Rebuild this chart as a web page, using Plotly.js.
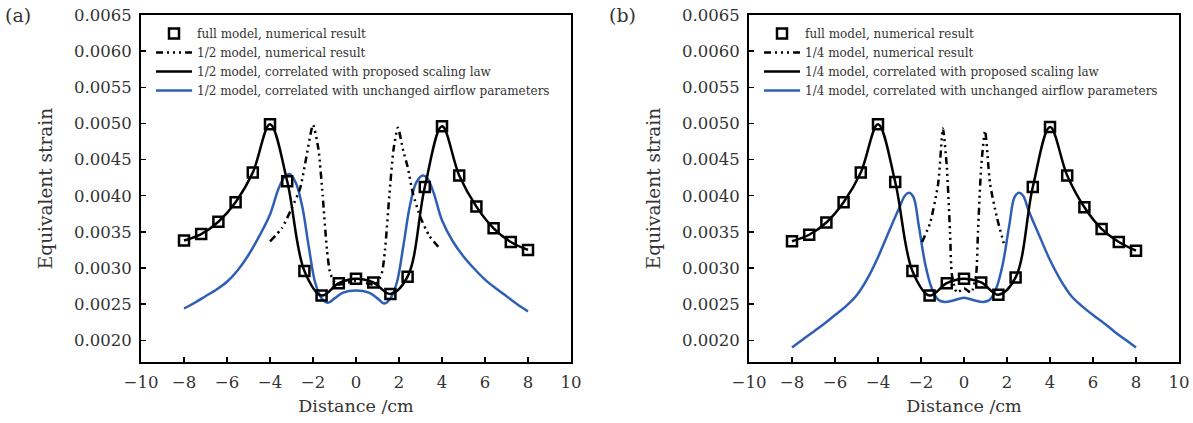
<!DOCTYPE html>
<html>
<head>
<meta charset="utf-8">
<script src="https://cdn.plot.ly/plotly-3.0.1.min.js"></script>
<style>html,body{margin:0;padding:0;background:#fff;}#chart{width:1193px;height:423px;}</style>
</head>
<body>
<div id="chart"></div>
<script>
// ---------- data ----------
const xFull = [-8, -7.2, -6.4, -5.6, -4.8, -4, -3.2, -2.4, -1.6, -0.8, 0, 0.8, 1.6, 2.4, 3.2, 4, 4.8, 5.6, 6.4, 7.2, 8];
const yFullA = [0.00338, 0.00347, 0.00364, 0.00391, 0.00432, 0.00499, 0.00420, 0.00296, 0.00262, 0.00279, 0.00285, 0.00280, 0.00264, 0.00288, 0.00412, 0.00496, 0.00428, 0.00385, 0.00355, 0.00336, 0.00325];
const yFullB = [0.00337, 0.00346, 0.00363, 0.00391, 0.00432, 0.00499, 0.00419, 0.00296, 0.00262, 0.00279, 0.00285, 0.00280, 0.00263, 0.00287, 0.00412, 0.00495, 0.00428, 0.00384, 0.00354, 0.00336, 0.00324];

const xScaledA = [-8, -7.2, -6.4, -5.6, -4.8, -4, -3.2, -2.4, -1.6, -0.8, 0, 0.8, 1.6, 2.4, 3.2, 4, 4.8, 5.6, 6.4, 7.2, 8];
const yScaledA = [0.00338, 0.00347, 0.00364, 0.00391, 0.00432, 0.00499, 0.00420, 0.00296, 0.00262, 0.00279, 0.00285, 0.00280, 0.00264, 0.00288, 0.00412, 0.00496, 0.00428, 0.00385, 0.00355, 0.00336, 0.00325];
const xScaledB = [-8, -7.2, -6.4, -5.6, -4.8, -4, -3.2, -2.4, -1.6, -0.8, 0, 0.8, 1.6, 2.4, 3.2, 4, 4.8, 5.6, 6.4, 7.2, 8];
const yScaledB = [0.00337, 0.00346, 0.00363, 0.00391, 0.00432, 0.00499, 0.00419, 0.00296, 0.00262, 0.00279, 0.00285, 0.00280, 0.00263, 0.00287, 0.00412, 0.00495, 0.00428, 0.00384, 0.00354, 0.00336, 0.00324];

const xHalf = [-4.0, -3.45, -3.0, -2.6, -2.3, -2.0, -1.75, -1.55, -1.35, -1.2, -0.9, -0.5, 0, 0.5, 0.9, 1.2, 1.35, 1.55, 1.75, 1.95, 2.2, 2.4, 2.65, 3.0, 3.4, 3.9];
const yHalf = [0.00337, 0.00355, 0.00382, 0.00410, 0.00455, 0.00498, 0.00465, 0.00400, 0.00325, 0.00293, 0.00277, 0.00279, 0.00282, 0.00279, 0.00277, 0.00293, 0.00325, 0.00400, 0.00465, 0.00494, 0.00462, 0.00440, 0.00403, 0.00370, 0.00345, 0.00327];

const xQuarter = [-1.95, -1.58, -1.2, -0.98, -0.8, -0.65, -0.56, -0.33, 0, 0.33, 0.56, 0.65, 0.8, 0.98, 1.21, 1.53, 1.9];
const yQuarter = [0.00336, 0.00362, 0.00417, 0.00493, 0.00440, 0.00350, 0.00290, 0.00266, 0.00272, 0.00266, 0.00290, 0.00350, 0.00440, 0.00490, 0.00417, 0.00370, 0.00329];

const xBlueA = [-8, -7.5, -7, -6.5, -6, -5.5, -5, -4.5, -4, -3.6, -3.3, -3.1, -2.8, -2.5, -2.2, -1.9, -1.6, -1.3, -1.0, -0.6, 0, 0.6, 1.0, 1.3, 1.6, 1.9, 2.2, 2.5, 2.8, 3.1, 3.3, 3.6, 4, 4.5, 5, 5.5, 6, 6.5, 7, 7.5, 8];
const yBlueA = [0.00244, 0.00252, 0.00261, 0.00270, 0.00281, 0.00297, 0.00318, 0.00344, 0.00374, 0.00410, 0.00427, 0.00430, 0.00418, 0.00385, 0.00330, 0.00280, 0.00258, 0.00252, 0.00258, 0.00266, 0.00269, 0.00266, 0.00258, 0.00251, 0.00258, 0.00280, 0.00330, 0.00385, 0.00418, 0.00428, 0.00425, 0.00405, 0.00366, 0.00337, 0.00316, 0.00299, 0.00284, 0.00272, 0.00261, 0.00250, 0.00240];

const xBlueB = [-8, -7.5, -7, -6.5, -6, -5.5, -5, -4.5, -4, -3.5, -3, -2.75, -2.55, -2.35, -2.1, -1.8, -1.5, -1.2, -0.9, -0.5, 0, 0.5, 0.9, 1.2, 1.5, 1.8, 2.1, 2.35, 2.55, 2.75, 3, 3.5, 4, 4.5, 5, 5.5, 6, 6.5, 7, 7.5, 8];
const yBlueB = [0.00190, 0.00201, 0.00212, 0.00223, 0.00235, 0.00247, 0.00262, 0.00285, 0.00315, 0.00350, 0.00384, 0.00400, 0.00404, 0.00398, 0.00358, 0.00305, 0.00272, 0.00256, 0.00253, 0.00255, 0.00259, 0.00255, 0.00253, 0.00256, 0.00272, 0.00305, 0.00358, 0.00398, 0.00404, 0.00400, 0.00380, 0.00345, 0.00311, 0.00283, 0.00261, 0.00247, 0.00235, 0.00224, 0.00212, 0.00201, 0.00190];

const namesA = ["full model, numerical result", "1/2 model, numerical result", "1/2 model, correlated with proposed scaling law", "1/2 model, correlated with unchanged airflow parameters"];
const namesB = ["full model, numerical result", "1/4 model, numerical result", "1/4 model, correlated with proposed scaling law", "1/4 model, correlated with unchanged airflow parameters"];
const panelLabels = ["(a)", "(b)"];
const xTitle = "Distance /cm";
const yTitle = "Equivalent strain";

// ---------- styling ----------
const FONT = "DejaVu Serif";
const TXT = "#333";
const BLUE = "#2f5fb4";
const DASHDOT = "7px,4px,2px,4px,2px,4px,2px,4px";
const W = 1193, H = 423;

function panelTraces(xa, ya, leg, names, xF, yF, xS, yS, xN, yN, xB, yB) {
  return [
    {x: xB, y: yB, xaxis: xa, yaxis: ya, legend: leg, name: names[3], legendrank: 4, mode: "lines",
     line: {color: BLUE, width: 2.5, shape: "spline", smoothing: 1}},
    {x: xN, y: yN, xaxis: xa, yaxis: ya, legend: leg, name: names[1], legendrank: 2, mode: "lines",
     line: {color: "#000", width: 2.5, dash: DASHDOT, shape: "spline", smoothing: 0.6}},
    {x: xS, y: yS, xaxis: xa, yaxis: ya, legend: leg, name: names[2], legendrank: 3, mode: "lines",
     line: {color: "#000", width: 2.5, shape: "spline", smoothing: 1}},
    {x: xF, y: yF, xaxis: xa, yaxis: ya, legend: leg, name: names[0], legendrank: 1, mode: "markers",
     marker: {symbol: "square-open", size: 10, color: "#000", line: {color: "#000", width: 2.5}}}
  ];
}

const data = [].concat(
  panelTraces("x", "y", "legend", namesA, xFull, yFullA, xScaledA, yScaledA, xHalf, yHalf, xBlueA, yBlueA),
  panelTraces("x2", "y2", "legend2", namesB, xFull, yFullB, xScaledB, yScaledB, xQuarter, yQuarter, xBlueB, yBlueB)
);

function xAxis(domain, anchor) {
  return {domain: domain, anchor: anchor, range: [-10, 10], dtick: 2, tick0: 0,
    ticks: "inside", ticklen: 5, tickwidth: 1.5, tickcolor: "#000",
    showline: true, linewidth: 2, linecolor: "#000", mirror: true,
    showgrid: false, zeroline: false, automargin: false, ticklabelstandoff: 4,
    tickfont: {family: FONT, size: 16.5, color: TXT},
    title: {text: xTitle, font: {family: FONT, size: 17.5, color: TXT}, standoff: 9}};
}
function yAxis(domain, anchor) {
  return {domain: domain, anchor: anchor, range: [0.0017, 0.0065], dtick: 0.0005, tick0: 0.002,
    tickformat: ".4f", ticks: "inside", ticklen: 5, tickwidth: 1.5, tickcolor: "#000",
    showline: true, linewidth: 2, linecolor: "#000", mirror: true,
    showgrid: false, zeroline: false, automargin: false, ticklabelstandoff: 4,
    tickfont: {family: FONT, size: 16.5, color: TXT},
    title: {text: yTitle, font: {family: FONT, size: 18.5, color: TXT}, standoff: 16}};
}

const yDom = [1 - 362 / H, 1 - 15 / H];
const legendCommon = {xanchor: "left", yanchor: "top", bgcolor: "rgba(0,0,0,0)", borderwidth: 0,
  font: {family: FONT, size: 12, color: TXT}, traceorder: "normal", itemwidth: 36};

const layout = {
  width: W, height: H,
  margin: {l: 0, r: 0, t: 0, b: 0},
  paper_bgcolor: "#fff", plot_bgcolor: "#fff",
  showlegend: true,
  xaxis: xAxis([141 / W, 571 / W], "y"),
  yaxis: yAxis(yDom, "x"),
  xaxis2: xAxis([749 / W, 1179 / W], "y2"),
  yaxis2: yAxis(yDom, "x2"),
  legend: Object.assign({x: 151 / W, y: 1 - 19 / H}, legendCommon),
  legend2: Object.assign({x: 759 / W, y: 1 - 19 / H}, legendCommon),
  annotations: [
    {text: panelLabels[0], x: 18 / W, y: 1 - 15 / H, xref: "paper", yref: "paper", showarrow: false,
     xanchor: "center", yanchor: "middle", font: {family: FONT, size: 19, color: TXT}},
    {text: panelLabels[1], x: 622 / W, y: 1 - 15 / H, xref: "paper", yref: "paper", showarrow: false,
     xanchor: "center", yanchor: "middle", font: {family: FONT, size: 19, color: TXT}}
  ]
};

Plotly.newPlot("chart", data, layout, {displayModeBar: false, staticPlot: true});
</script>
</body>
</html>
